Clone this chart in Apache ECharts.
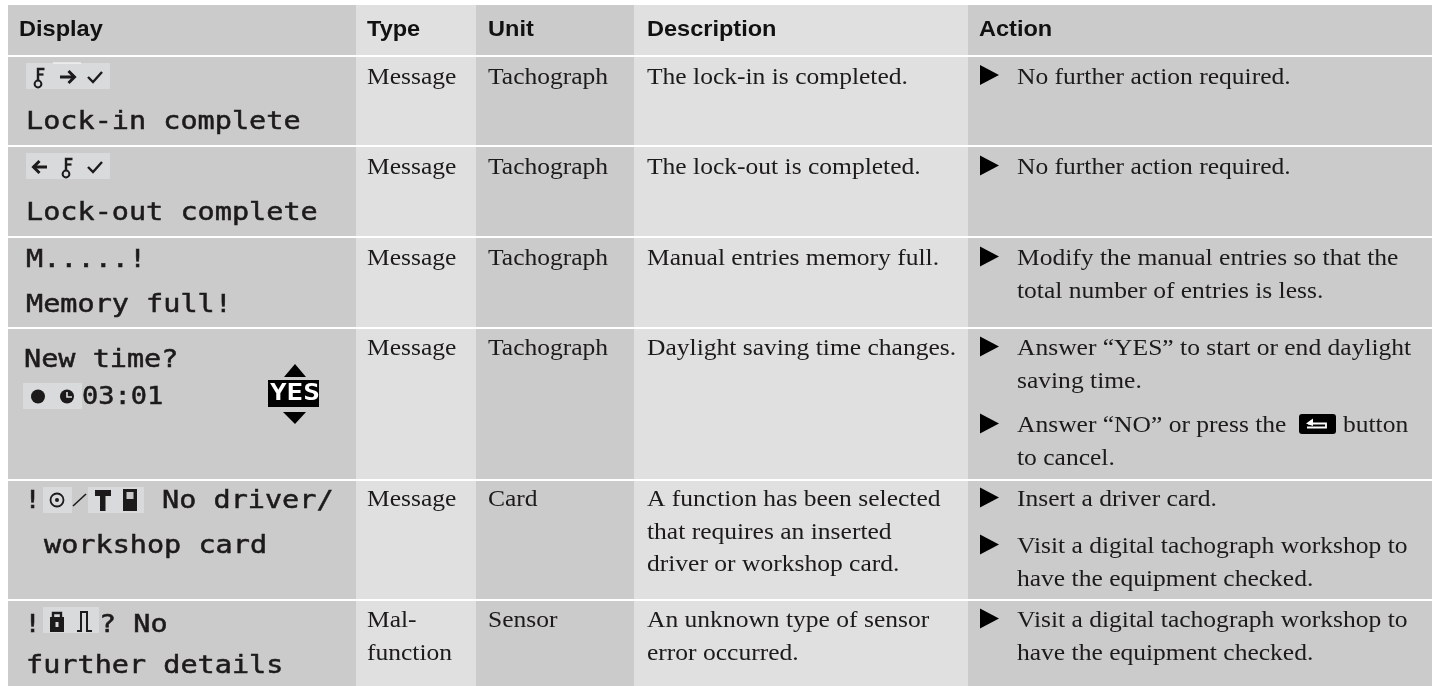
<!DOCTYPE html>
<html><head><meta charset="utf-8">
<style>html,body{margin:0;padding:0;background:#fff}#c{width:1432px;height:686px}</style>
<script src="https://cdn.jsdelivr.net/npm/echarts@6/dist/echarts.min.js"></script>
</head><body><div id="c"></div>
<script>
// ---- table content ----
const headers = ['Display', 'Type', 'Unit', 'Description', 'Action'];
const displayText = [
  [['Lock-in complete', 0, 0]],
  [['Lock-out complete', 0, 0]],
  [['M.....!', 0, 0], ['Memory full!', 0, 1]],
  [['New time?', -2, 0], ['03:01', 56, 1, 1.08]],
  [['!', -2, 0], ['No driver/', 136, 0], ['workshop card', 18, 1]],
  [['!', -2, 0], ['? No', 73, 0], ['further details', 0, 1]]
];
const types = [['Message'], ['Message'], ['Message'], ['Message'], ['Message'], ['Mal-', 'function']];
const units = [['Tachograph'], ['Tachograph'], ['Tachograph'], ['Tachograph'], ['Card'], ['Sensor']];
const descriptions = [
  ['The lock-in is completed.'],
  ['The lock-out is completed.'],
  ['Manual entries memory full.'],
  ['Daylight saving time changes.'],
  ['A function has been selected', 'that requires an inserted', 'driver or workshop card.'],
  ['An unknown type of sensor', 'error occurred.']
];
const actions = [
  [['No further action required.']],
  [['No further action required.']],
  [['Modify the manual entries so that the', 'total number of entries is less.']],
  [['Answer \u201cYES\u201d to start or end daylight', 'saving time.'], ['Answer \u201cNO\u201d or press the', 'to cancel.']],
  [['Insert a driver card.'], ['Visit a digital tachograph workshop to', 'have the equipment checked.']],
  [['Visit a digital tachograph workshop to', 'have the equipment checked.']]
];
const buttonWord = 'button';
const yesLabel = 'YES';

// ---- layout ----
const colEdges = [8, 356, 476, 634, 968, 1432];
const colText = [19, 367, 488, 647, 1017];
const rowTop = [5, 57, 147, 238, 329, 481, 601];
const rowBottom = [55, 145, 236, 327, 479, 599, 686];
const firstBase = [85.5, 176, 267, 357, 508, 629];
const dispBase = [[131], [222], [269, 314], [369, 406], [510, 555], [634, 675]];
const actionBase = [[[85.5]], [[176]], [[267, 299.5]], [[357, 389.5], [434, 466.5]], [[508], [555, 587.5]], [[629, 661.5]]];
const lineStep = 32.5;
const DARK = '#cbcbcb', LIGHT = '#e0e0e0', TILE = '#d8dadb', INK = '#1c1a1a';
const SERIF = 'Liberation Serif', SANS = 'Liberation Sans', MONO = 'DejaVu Sans Mono';
const SERIF_SIZE = 23, SERIF_SX = 1.11, MONO_SIZE = 25, MONO_SX = 1.14;

function txt(text, x, base, size, family, weight, fill, sx, stroke) {
  const style = { text: text, x: 0, y: 0, fill: fill, textAlign: 'left', textVerticalAlign: 'middle',
    font: (weight ? weight + ' ' : '') + size + 'px "' + family + '"' };
  if (stroke) { style.stroke = fill; style.lineWidth = stroke; }
  return { type: 'text', x: x, y: base - size * 0.34, scaleX: sx || 1, scaleY: 1, style: style };
}
const serif = (t, x, b) => txt(t, x, b, SERIF_SIZE, SERIF, '', INK, SERIF_SX);
const mono = (t, x, b, sx) => txt(t, x, b, MONO_SIZE, MONO, '', INK, sx || MONO_SX, 0.5);
const box = (x0, y0, x1, y1, fill, r) => ({ type: 'rect', shape: { x: x0, y: y0, width: x1 - x0, height: y1 - y0, r: r || 0 }, style: { fill: fill } });
const line = (pts, w, c) => ({ type: 'polyline', shape: { points: pts }, style: { fill: null, stroke: c || INK, lineWidth: w } });
const tri = (pts, c) => ({ type: 'polygon', shape: { points: pts }, style: { fill: c || '#000' } });
const disc = (x, y, r, c) => ({ type: 'circle', shape: { cx: x, cy: y, r: r }, style: { fill: c || INK } });
const ring = (x, y, r, w) => ({ type: 'circle', shape: { cx: x, cy: y, r: r }, style: { fill: null, stroke: INK, lineWidth: w } });

function keyIcon(x, top) {
  return [ring(x, top + 21, 3.4, 2), line([[x, top + 18], [x, top + 6], [x + 6.5, top + 6]], 2.4), line([[x, top + 11.5], [x + 5.5, top + 11.5]], 2.2)];
}
function checkIcon(top) { return line([[88, top + 14], [93, top + 19], [102, top + 9]], 2.4); }
function displayIcons(r) {
  const out = [];
  if (r === 1) {
    const t = rowTop[1] + 6;
    out.push(box(26, t, 110, t + 26, TILE), box(53, t - 0.5, 81, t + 0.5, '#fff'));
    out.push(...keyIcon(38, t), line([[60, t + 14], [74, t + 14]], 3), line([[68.5, t + 8], [74.5, t + 14], [68.5, t + 20]], 3), checkIcon(t));
  } else if (r === 2) {
    const t = rowTop[2] + 6;
    out.push(box(26, t, 110, t + 26, TILE));
    out.push(...keyIcon(66, t), line([[33, t + 14], [47, t + 14]], 3), line([[39.5, t + 8], [33.5, t + 14], [39.5, t + 20]], 3), checkIcon(t));
  } else if (r === 4) {
    out.push(box(23, 383, 82, 409, TILE), disc(38, 396.5, 7), disc(67, 396.5, 7));
    out.push(line([[67, 392], [67, 397], [72, 397]], 1.6, '#e4e4e4'));
    out.push(tri([[295, 364], [306, 377], [284, 377]]), box(268, 380, 319, 407, '#000'), tri([[283, 412], [306, 412], [295, 424]]));
    out.push(txt(yesLabel, 270, 402, 23, MONO, 'bold', '#fff', 1.2));
  } else if (r === 5) {
    out.push(box(43, 487, 72, 513, TILE), box(88, 487, 144, 513, TILE));
    out.push(ring(57, 500, 6.5, 1.8), disc(57, 500, 2));
    out.push(line([[73, 506], [86, 494]], 1.6));
    out.push(box(95, 490, 111, 496, INK), box(100, 496, 105.5, 511, INK));
    out.push(box(123, 489, 137, 511, INK), box(126.5, 492, 133.5, 499, '#c8c8c8'));
  } else if (r === 6) {
    out.push(box(43, 607, 99, 633, TILE));
    out.push(line([[53, 618], [53, 613], [61, 613], [61, 618]], 2.4));
    out.push(box(50, 617, 64, 632, INK), box(55.5, 622, 58.5, 627, '#d8dadb'));
    out.push(line([[77, 631], [81, 631], [81, 612], [87, 612], [87, 631], [92, 631]], 2));
  }
  return out;
}
function buttonIcon() {
  return [box(1299, 414, 1336, 434, '#000', 3),
    line([[1308, 423.5], [1326, 423.5], [1326, 427.5], [1307, 427.5]], 1.8, '#fff'),
    tri([[1306, 423.5], [1313, 418.5], [1313, 426]], '#fff')];
}

function renderCell(params, api) {
  const c = api.value(0), r = api.value(1);
  const a = api.coord([colEdges[c], rowTop[r]]), b = api.coord([colEdges[c + 1], rowBottom[r]]);
  const kids = [box(a[0], a[1], b[0], b[1], c % 2 === 0 ? DARK : LIGHT)];
  const tx = colText[c];
  if (r === 0) {
    kids.push(txt(headers[c], c === 4 ? 979 : tx, 37.5, 22, SANS, 'bold', '#111', 1.07));
    return { type: 'group', children: kids };
  }
  const i = r - 1;
  if (c === 0) {
    kids.push(...displayIcons(r));
    displayText[i].forEach(l => {
      kids.push(mono(l[0], 26 + l[1], dispBase[i][l[2]], l[3]));
    });
  } else if (c === 1 || c === 2 || c === 3) {
    const src = c === 1 ? types : c === 2 ? units : descriptions;
    src[i].forEach((t, k) => kids.push(serif(t, tx, firstBase[i] + k * lineStep)));
  } else {
    actions[i].forEach((item, n) => {
      const bases = actionBase[i][n];
      kids.push(tri([[980, bases[0] - 20.5], [999, bases[0] - 10.5], [980, bases[0] - 0.5]]));
      item.forEach((t, k) => kids.push(serif(t, tx, bases[k])));
    });
    if (i === 3) { kids.push(...buttonIcon(), serif(buttonWord, 1343, actionBase[3][1][0])); }
  }
  return { type: 'group', children: kids };
}

const cells = [];
rowTop.forEach((_, r) => headers.forEach((_, c) => cells.push([c, r])));

const chart = echarts.init(document.getElementById('c'), null, { renderer: 'canvas' });
chart.setOption({
  animation: false,
  backgroundColor: '#fff',
  grid: { left: 0, right: 0, top: 0, bottom: 0 },
  xAxis: { type: 'value', min: 0, max: 1432, show: false },
  yAxis: { type: 'value', min: 0, max: 686, inverse: true, show: false },
  tooltip: { show: false },
  series: [{ type: 'custom', coordinateSystem: 'cartesian2d', silent: true, clip: false,
    encode: { x: 0, y: 1 }, renderItem: renderCell, data: cells }]
});
</script></body></html>
